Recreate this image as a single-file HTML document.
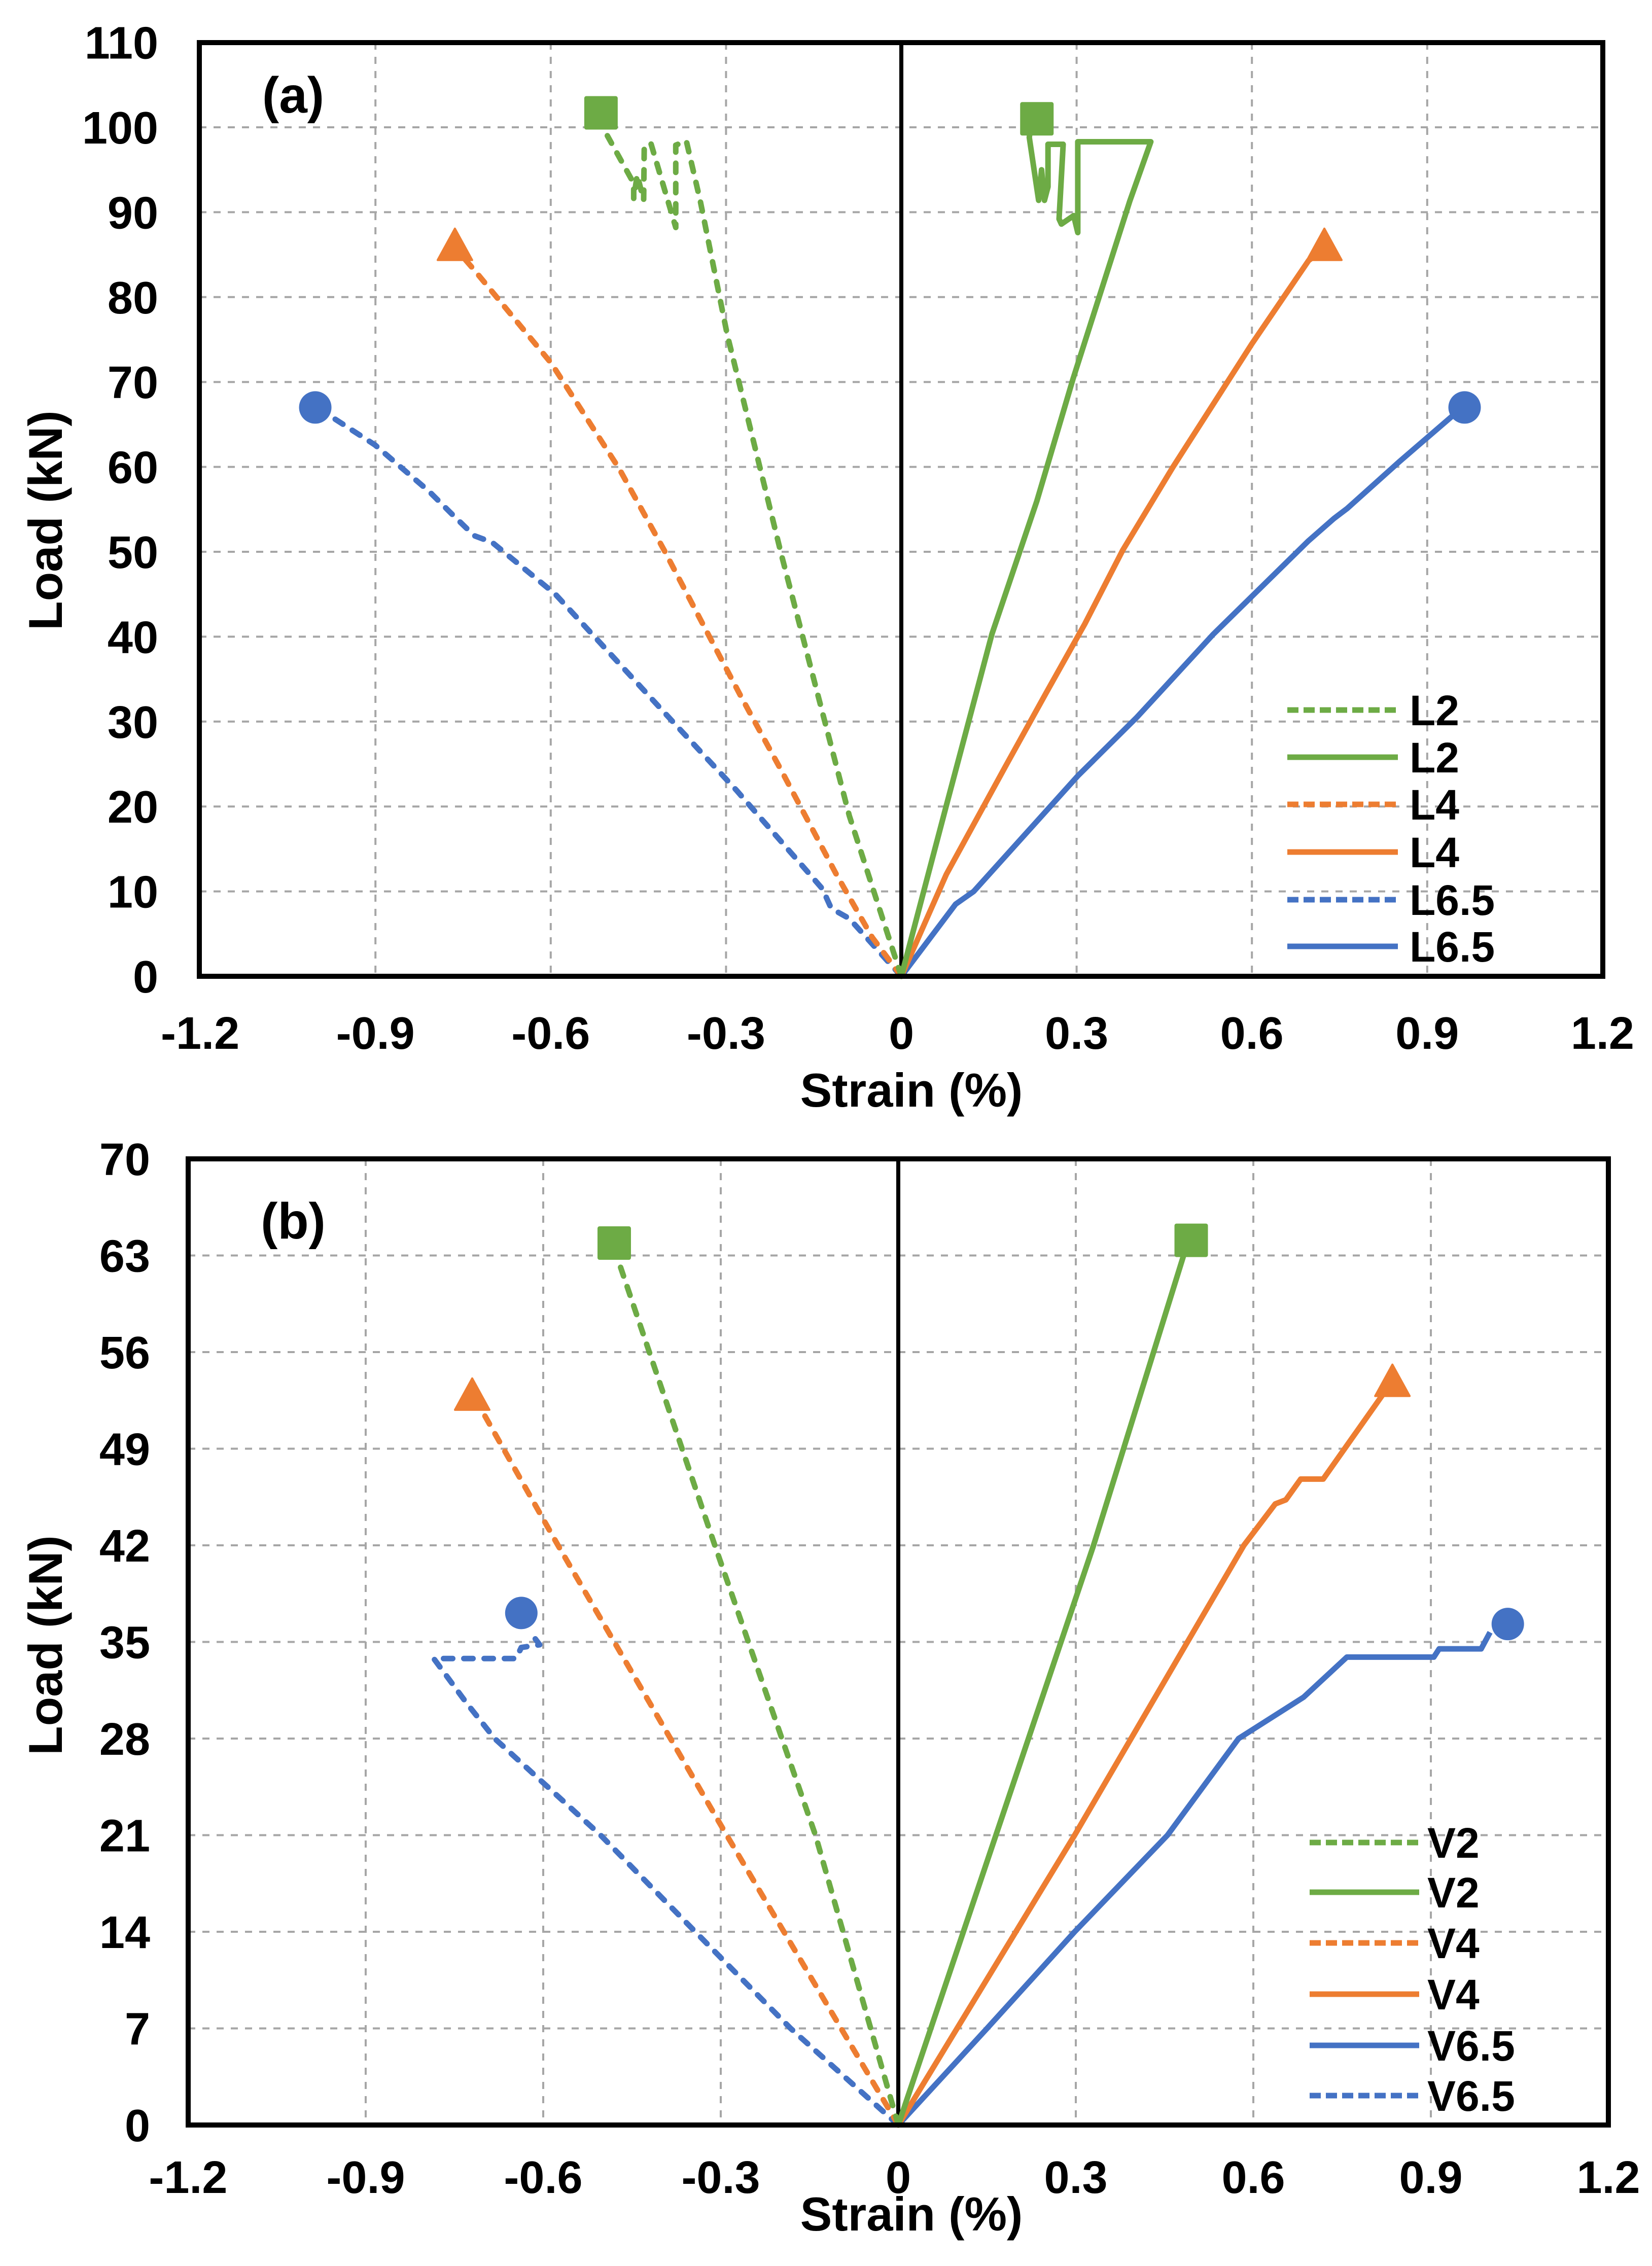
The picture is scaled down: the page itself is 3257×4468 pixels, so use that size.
<!DOCTYPE html>
<html><head><meta charset="utf-8"><style>
html,body{margin:0;padding:0;background:#fff}
svg{display:block}
text{font-family:"Liberation Sans",Arial,sans-serif;font-weight:bold;fill:#000}
</style></head><body>
<svg id="fig" width="3257" height="4468" viewBox="0 0 3257 4468" xmlns="http://www.w3.org/2000/svg"></svg>
<script>
// ---------- Data: panel (a) ----------
const aXTicks = [-1.2,-0.9,-0.6,-0.3,0,0.3,0.6,0.9,1.2];
const aXTickLabels = ["-1.2","-0.9","-0.6","-0.3","0","0.3","0.6","0.9","1.2"];
const aYTicks = [0,10,20,30,40,50,60,70,80,90,100,110];
const aYTickLabels = ["0","10","20","30","40","50","60","70","80","90","100","110"];
const aL2dX = [0,-0.089,-0.205,-0.298,-0.344,-0.368,-0.386,-0.386,-0.429,-0.440,-0.441,-0.452,-0.458,-0.458,-0.503];
const aL2dY = [0,18.9,49.6,75.6,91.3,98.4,97.9,88.2,98.2,97.4,91.4,94.4,91.6,93.4,99.0];
const aL2sX = [0,0.077,0.155,0.232,0.294,0.391,0.427,0.302,0.302,0.295,0.274,0.270,0.277,0.251,0.251,0.245,0.240,0.235,0.219,0.222];
const aL2sY = [0,20.1,40.3,56,70.4,91.3,98.3,98.3,87.6,89.6,88.6,89.2,98.0,98.0,93,91.4,95,91.4,98.8,100.5];
const aL4dX = [0,-0.05,-0.112,-0.205,-0.274,-0.336,-0.406,-0.483,-0.599,-0.731,-0.76];
const aL4dY = [0,4.6,12.1,24.2,32.9,41,50.2,59.8,72.2,83.2,85.5];
const aL4sX = [0,0.077,0.178,0.248,0.314,0.379,0.465,0.60,0.697,0.72];
const aL4sY = [0,12,24.7,33.4,41.5,50.2,60,74.5,84.3,85.5];
const aL65dX = [0,-0.089,-0.12,-0.135,-0.282,-0.398,-0.592,-0.70,-0.731,-0.77,-0.808,-0.901,-1.0];
const aL65dY = [0,6.8,8,10.3,21.9,30.5,45,51.1,51.9,54.5,57.1,62.6,67.0];
const aL65sX = [0,0.093,0.124,0.302,0.403,0.534,0.697,0.74,0.763,0.852,0.96];
const aL65sY = [0,8.5,10,23.6,30.5,40.3,51.3,53.9,55.1,60.6,67.0];
const aMarkX = [-0.514,0.232,-0.764,0.724,-1.003,0.964];
const aMarkY = [101.7,101.0,85.8,85.8,67.0,67.0];

// ---------- Data: panel (b) ----------
const bXTicks = [-1.2,-0.9,-0.6,-0.3,0,0.3,0.6,0.9,1.2];
const bXTickLabels = ["-1.2","-0.9","-0.6","-0.3","0","0.3","0.6","0.9","1.2"];
const bYTicks = [0,7,14,21,28,35,42,49,56,63,70];
const bYTickLabels = ["0","7","14","21","28","35","42","49","56","63","70"];
const bV2dX = [0,-0.14,-0.31,-0.48];
const bV2dY = [0,21,42,63.5];
const bV2sX = [0,0.165,0.33,0.488];
const bV2sY = [0,21,42,63.8];
const bV4dX = [0,-0.29,-0.575,-0.712];
const bV4dY = [0,21,42,52.4];
const bV4sX = [0,0.298,0.584,0.637,0.655,0.68,0.718,0.825];
const bV4sY = [0,21,42,45,45.3,46.8,46.8,53.3];
const bV65sX = [0,0.15,0.298,0.455,0.575,0.685,0.758,0.905,0.914,0.985,1.0];
const bV65sY = [0,7,14,21,28,31,33.9,33.9,34.5,34.5,35.7];
const bV65dX = [0,-0.182,-0.343,-0.503,-0.682,-0.73,-0.785,-0.646,-0.637,-0.606,-0.62];
const bV65dY = [0,7,14,21,28,30.6,33.8,33.8,34.6,34.8,35.6];
const bMarkX = [-0.48,0.495,-0.72,0.835,-0.637,1.03];
const bMarkY = [63.9,64.1,52.7,53.7,37.1,36.3];

const GREEN="#6DAB45", ORANGE="#ED7D31", BLUE="#4472C4";
const NS="http://www.w3.org/2000/svg";
const svg=document.getElementById('fig');
function el(tag,attrs,parent){const e=document.createElementNS(NS,tag);for(const k in attrs)e.setAttribute(k,attrs[k]);(parent||svg).appendChild(e);return e;}

function makeAxes(P){
  P.sx=v=>P.x0+v*P.ux;
  P.sy=v=>P.y0-v*P.uy;
  return P;
}
const PA=makeAxes({left:393,right:3160,top:84,bottom:1925,x0:1777,ux:1152,y0:1925,uy:16.74,ylabRight:312,xlabBase:2068});
const PB=makeAxes({left:371,right:3171,top:2285,bottom:4190,x0:1771,ux:1166.7,y0:4190,uy:27.214,ylabRight:296,xlabBase:4324});

function drawFrame(P,xt,xl,yt,yl,name){
  const g=el('g',{});
  
  
  xt.forEach((v,i)=>{
    if(i>0&&i<xt.length-1&&v!==0){
      const l=el('line',{x1:P.sx(v),x2:P.sx(v),y1:P.top,y2:P.bottom,stroke:'#a6a6a6','stroke-width':4,'stroke-dasharray':'14 14'},g);
      
      
    }
    const t=el('text',{x:P.sx(v),y:P.xlabBase,'font-size':90,'text-anchor':'middle'},g);
    t.textContent=xl[i];
    
    
  });
  yt.forEach((v,i)=>{
    if(i>0&&i<yt.length-1){
      const l=el('line',{x1:P.left,x2:P.right,y1:P.sy(v),y2:P.sy(v),stroke:'#a6a6a6','stroke-width':4,'stroke-dasharray':'14 14'},g);
      
      
    }
    const t=el('text',{x:P.ylabRight,y:P.sy(v)+32,'font-size':90,'text-anchor':'end'},g);
    t.textContent=yl[i];
    
    
  });
  const z=el('line',{x1:P.sx(0),x2:P.sx(0),y1:P.top,y2:P.bottom,stroke:'#000','stroke-width':8},g);
  
  
}
function drawBorder(P,name){
  const r=el('rect',{x:P.left,y:P.top,width:P.right-P.left,height:P.bottom-P.top,fill:'none',stroke:'#000','stroke-width':10});
  
  
}
function drawSeries(P,xs,ys,color,dashed,name){
  const pts=xs.map((v,i)=>P.sx(v).toFixed(1)+','+P.sy(ys[i]).toFixed(1)).join(' ');
  const a={points:pts,fill:'none',stroke:color,'stroke-width':11,'stroke-linejoin':'round','stroke-linecap':dashed?'round':'butt'};
  if(dashed)a['stroke-dasharray']='18 22';
  const p=el('polyline',a);
  
  
}
function drawMarker(P,x,y,shape,color,name){
  const cx=P.sx(x),cy=P.sy(y);let m;
  if(shape==='square')m=el('rect',{x:cx-33,y:cy-33,width:66,height:66,rx:4,fill:color});
  else if(shape==='tri')m=el('polygon',{points:`${cx},${cy-38} ${cx+34},${cy+24} ${cx-34},${cy+24}`,fill:color,stroke:color,'stroke-width':4,'stroke-linejoin':'round'});
  else m=el('circle',{cx:cx,cy:cy,r:32,fill:color});
  
  
}
function drawLegend(x1,x2,tx,ys,labels,colors,dashes,name){
  const g=el('g',{});
  
  
  ys.forEach((y,i)=>{
    const a={x1:x1,x2:x2,y1:y,y2:y,stroke:colors[i],'stroke-width':11};
    if(dashes[i])a['stroke-dasharray']='22 10';
    const l=el('line',a,g);
    
    
    const t=el('text',{x:tx,y:y+30,'font-size':84},g);
    t.textContent=labels[i];
    
    
  });
}
function txt(x,y,s,size,name,rot){
  const t=el('text',{x:x,y:y,'font-size':size,'text-anchor':'middle'});
  if(rot)t.setAttribute('transform',`rotate(-90 ${x} ${y})`);
  t.textContent=s;
  
  
}

// Panel (a)
drawFrame(PA,aXTicks,aXTickLabels,aYTicks,aYTickLabels,'panel-a');
drawSeries(PA,aL65dX,aL65dY,BLUE,true,'series-l6.5-dashed');
drawSeries(PA,aL65sX,aL65sY,BLUE,false,'series-l6.5-solid');
drawSeries(PA,aL4dX,aL4dY,ORANGE,true,'series-l4-dashed');
drawSeries(PA,aL4sX,aL4sY,ORANGE,false,'series-l4-solid');
drawSeries(PA,aL2dX,aL2dY,GREEN,true,'series-l2-dashed');
drawSeries(PA,aL2sX,aL2sY,GREEN,false,'series-l2-solid');
const aShapes=['square','square','tri','tri','circle','circle'];
const aCols=[GREEN,GREEN,ORANGE,ORANGE,BLUE,BLUE];
aMarkX.forEach((v,i)=>drawMarker(PA,v,aMarkY[i],aShapes[i],aCols[i],'failure-marker'));
drawBorder(PA,'panel-a');
drawLegend(2538,2756,2779,[1400,1493,1586,1680,1774,1866],['L2','L2','L4','L4','L6.5','L6.5'],[GREEN,GREEN,ORANGE,ORANGE,BLUE,BLUE],[1,0,1,0,1,0],'legend-a');
txt(578,222,'(a)',100,'panel-label-a');
txt(1797,2182,'Strain (%)',94,'x-axis-title-a');
txt(122,1026,'Load (kN)',94,'y-axis-title-a',true);

// Panel (b)
drawFrame(PB,bXTicks,bXTickLabels,bYTicks,bYTickLabels,'panel-b');
drawSeries(PB,bV65dX,bV65dY,BLUE,true,'series-v6.5-dashed');
drawSeries(PB,bV65sX,bV65sY,BLUE,false,'series-v6.5-solid');
drawSeries(PB,bV4dX,bV4dY,ORANGE,true,'series-v4-dashed');
drawSeries(PB,bV4sX,bV4sY,ORANGE,false,'series-v4-solid');
drawSeries(PB,bV2dX,bV2dY,GREEN,true,'series-v2-dashed');
drawSeries(PB,bV2sX,bV2sY,GREEN,false,'series-v2-solid');
bMarkX.forEach((v,i)=>drawMarker(PB,v,bMarkY[i],aShapes[i],aCols[i],'failure-marker'));
drawBorder(PB,'panel-b');
drawLegend(2582,2798,2814,[3633,3731,3831,3932,4033,4132],['V2','V2','V4','V4','V6.5','V6.5'],[GREEN,GREEN,ORANGE,ORANGE,BLUE,BLUE],[1,0,1,0,0,1],'legend-b');
txt(578,2442,'(b)',100,'panel-label-b');
txt(1797,4398,'Strain (%)',94,'x-axis-title-b');
txt(122,3244,'Load (kN)',94,'y-axis-title-b',true);
</script>
</body></html>
